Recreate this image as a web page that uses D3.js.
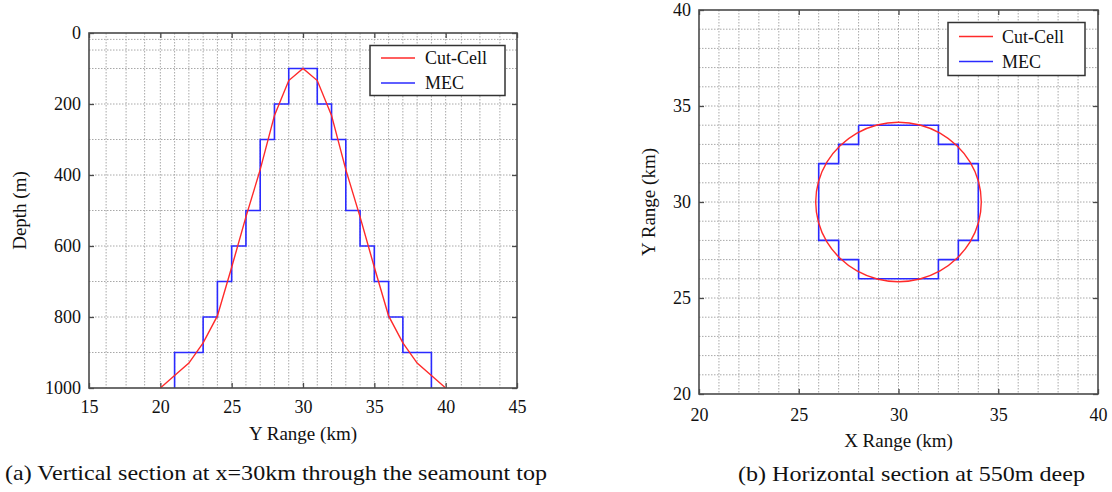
<!DOCTYPE html>
<html><head><meta charset="utf-8">
<script src="https://cdn.jsdelivr.net/npm/d3@7"></script>
<style>
body{margin:0;background:#fff}
svg{display:block}
text{font-family:"Liberation Serif","Times New Roman",serif;fill:#111}
</style>
</head><body><svg id="c" width="1112" height="492"></svg>
<script>
// ---------- Panel (a): vertical section ----------
const cutCellY     = [20,21,22,23,24,25,26,27,28,29,30,31,32,33,34,35,36,37,38,39,40];
const cutCellDepth = [1000,965,930,873,797,660,518,385,232,134,100,134,232,385,518,660,797,873,930,965,1000];
const mecY     = [21,21,23,23,24,24,25,25,26,26,27,27,28,28,29,29,31,31,32,32,33,33,34,34,35,35,36,36,37,37,39,39];
const mecDepth = [1000,900,900,800,800,700,700,600,600,500,500,300,300,200,200,100,100,200,200,300,300,500,500,600,600,700,700,800,800,900,900,1000];
const gridA_Y     = [16.2,17.6,18.9,20,21,22,23,24,25,26,27,28,29,30,31,32,33,34,35,36,37,38,39,40,41.1,42.4,43.8];
const gridA_Depth = [18,48,100,200,300,400,500,600,700,800,900];
const ticksA_Y     = [15,20,25,30,35,40,45];
const ticksA_Depth = [0,200,400,600,800,1000];

// ---------- Panel (b): horizontal section at 550 m ----------
const cutCellX2 = [34.15,34.01,33.59,32.93,32.08,31.07,30,28.93,27.92,27.07,26.41,25.99,25.85,25.99,26.41,27.07,27.92,28.93,30,31.07,32.08,32.93,33.59,34.01];
const cutCellY2 = [30,31.07,32.08,32.93,33.59,34.01,34.15,34.01,33.59,32.93,32.08,31.07,30,28.93,27.92,27.07,26.41,25.99,25.85,25.99,26.41,27.07,27.92,28.93];
const mecX2 = [28,32,32,33,33,34,34,33,33,32,32,28,28,27,27,26,26,27,27,28,28];
const mecY2 = [34,34,33,33,32,32,28,28,27,27,26,26,27,27,28,28,32,32,33,33,34];
const gridB = [21,22,23,24,25,26,27,28,29,30,31,32,33,34,35,36,37,38,39];
const ticksB = [20,25,30,35,40];

const seriesNames = ["Cut-Cell","MEC"];
const seriesColors = ["#ff2a2a","#2a2aff"];
const captionA = "(a) Vertical section at x=30km through the seamount top";
const captionB = "(b) Horizontal section at 550m deep";

const svg = d3.select("#c");
const FRAME = "#4a4a4a";

function panel(o){
  const g = svg.append("g");
  const x = d3.scaleLinear().domain(o.xDomain).range([o.left, o.right]);
  const y = d3.scaleLinear().domain(o.yDomain).range([o.top, o.bottom]);
  // grid
  g.append("g").selectAll("line").data(o.xGrid).join("line")
    .attr("x1", d=>x(d)).attr("x2", d=>x(d)).attr("y1", o.top).attr("y2", o.bottom)
    .attr("stroke","#a8a8a8").attr("stroke-width",1).attr("stroke-dasharray","1.5,1.5");
  g.append("g").selectAll("line").data(o.yGrid).join("line")
    .attr("y1", d=>y(d)).attr("y2", d=>y(d)).attr("x1", o.left).attr("x2", o.right)
    .attr("stroke","#a8a8a8").attr("stroke-width",1).attr("stroke-dasharray","1.5,1.5");
  // axes with inward ticks
  const styleAx = sel => {
    sel.select(".domain").remove();
    sel.selectAll(".tick line").attr("stroke",FRAME).attr("stroke-width",1.3);
    sel.selectAll("text").style("font-size","18px").attr("fill","#111");
  };
  g.append("g").attr("transform",`translate(0,${o.bottom})`)
    .call(d3.axisBottom(x).tickValues(o.xTicks).tickSizeInner(-5).tickSizeOuter(0).tickPadding(o.xPad).tickFormat(d3.format("d")))
    .call(styleAx);
  g.append("g").attr("transform",`translate(0,${o.top})`)
    .call(d3.axisTop(x).tickValues(o.xTicks).tickSizeInner(-5).tickSizeOuter(0).tickFormat(""))
    .call(styleAx);
  g.append("g").attr("transform",`translate(${o.left},0)`)
    .call(d3.axisLeft(y).tickValues(o.yTicks).tickSizeInner(-5).tickSizeOuter(0).tickPadding(8).tickFormat(d3.format("d")))
    .call(styleAx);
  g.append("g").attr("transform",`translate(${o.right},0)`)
    .call(d3.axisRight(y).tickValues(o.yTicks).tickSizeInner(-5).tickSizeOuter(0).tickFormat(""))
    .call(styleAx);
  g.selectAll("text").attr("font-family",'"Liberation Serif","Times New Roman",serif');
  // data lines
  const line = d3.line().x(d=>x(d[0])).y(d=>y(d[1]));
  g.append("path").datum(o.mec).attr("d", line).attr("fill","none")
    .attr("stroke",seriesColors[1]).attr("stroke-width",1.6);
  const cl = o.closed ? d3.line().x(d=>x(d[0])).y(d=>y(d[1])).curve(d3.curveCatmullRomClosed) : line;
  g.append("path").datum(o.cut).attr("d", cl).attr("fill","none")
    .attr("stroke",seriesColors[0]).attr("stroke-width",1.4);
  // frame
  g.append("rect").attr("x",o.left).attr("y",o.top).attr("width",o.right-o.left).attr("height",o.bottom-o.top)
    .attr("fill","none").attr("stroke",FRAME).attr("stroke-width",1.6);
  // legend
  const L = o.legend;
  const lg = g.append("g");
  lg.append("rect").attr("x",L.x).attr("y",L.y).attr("width",L.w).attr("height",L.h)
    .attr("fill","#fff").attr("stroke","#333").attr("stroke-width",1.5);
  seriesNames.forEach((n,i)=>{
    const yy = L.y + L.rowY[i];
    lg.append("line").attr("x1",L.x+L.lx1).attr("x2",L.x+L.lx2).attr("y1",yy).attr("y2",yy)
      .attr("stroke",seriesColors[i]).attr("stroke-width",1.5);
    lg.append("text").attr("x",L.x+L.tx).attr("y",yy).attr("dy","0.35em")
      .style("font-size","18px").text(n);
  });
  // axis labels
  g.append("text").attr("x",(o.left+o.right)/2).attr("y",o.xLabelY).attr("text-anchor","middle")
    .style("font-size","19px").text(o.xLabel);
  g.append("text").attr("transform",`translate(${o.yLabelX},${(o.top+o.bottom)/2}) rotate(-90)`)
    .attr("text-anchor","middle").attr("dy","0.35em").style("font-size","19px").text(o.yLabel);
  return g;
}

panel({
  left:89, right:517, top:33, bottom:388,
  xDomain:[15,45], yDomain:[0,1000],
  xGrid:gridA_Y, yGrid:gridA_Depth, xTicks:ticksA_Y, yTicks:ticksA_Depth, xPad:12,
  cut:cutCellY.map((v,i)=>[v,cutCellDepth[i]]),
  mec:mecY.map((v,i)=>[v,mecDepth[i]]),
  closed:false,
  legend:{x:370,y:45.5,w:135,h:50,rowY:[12.5,37.5],lx1:11,lx2:45,tx:55},
  xLabel:"Y Range (km)", xLabelY:440, yLabel:"Depth (m)", yLabelX:19
});

panel({
  left:699, right:1098, top:10, bottom:394,
  xDomain:[20,40], yDomain:[40,20],
  xGrid:gridB, yGrid:gridB, xTicks:ticksB, yTicks:ticksB, xPad:14,
  cut:cutCellX2.map((v,i)=>[v,cutCellY2[i]]),
  mec:mecX2.map((v,i)=>[v,mecY2[i]]),
  closed:true,
  legend:{x:948,y:22.5,w:137,h:53,rowY:[14,39],lx1:11,lx2:45,tx:54},
  xLabel:"X Range (km)", xLabelY:447, yLabel:"Y Range (km)", yLabelX:648
});

svg.append("text").attr("x",5).attr("y",480).style("font-size","22px")
  .attr("textLength",542).attr("lengthAdjust","spacingAndGlyphs").text(captionA);
svg.append("text").attr("x",738).attr("y",481).style("font-size","22px")
  .attr("textLength",347).attr("lengthAdjust","spacingAndGlyphs").text(captionB);
</script>
</body></html>
